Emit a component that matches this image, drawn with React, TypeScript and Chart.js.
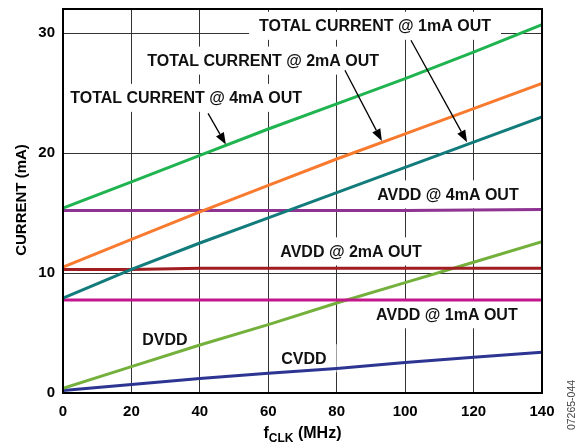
import React, { useEffect, useRef } from "react";
import { Chart, registerables } from "chart.js";

Chart.register(...registerables);

const fclk = [0, 20, 40, 60, 80, 100, 120, 140];
const total4mA = [15.4, 17.6, 19.8, 22.0, 24.1, 26.2, 28.4, 30.7];
const total2mA = [10.5, 12.8, 15.1, 17.3, 19.5, 21.6, 23.7, 25.8];
const total1mA = [7.9, 10.3, 12.5, 14.6, 16.7, 18.8, 20.9, 23.0];
const avdd4mA = [15.2, 15.2, 15.2, 15.2, 15.2, 15.2, 15.25, 15.3];
const avdd2mA = [10.3, 10.3, 10.4, 10.4, 10.4, 10.4, 10.4, 10.4];
const avdd1mA = [7.75, 7.75, 7.75, 7.75, 7.75, 7.75, 7.75, 7.75];
const dvdd = [0.4, 2.2, 4.0, 5.7, 7.5, 9.2, 10.9, 12.6];
const cvdd = [0.2, 0.7, 1.2, 1.65, 2.05, 2.55, 2.98, 3.4];

const xTicks = [0, 20, 40, 60, 80, 100, 120, 140];
const yTicks = [0, 10, 20, 30];

const FONT = "'Liberation Sans', Arial, sans-serif";

const annotations = [
  { text: "TOTAL CURRENT @ 1mA OUT", x: 91.2, y: 30.6, box: true },
  { text: "TOTAL CURRENT @ 2mA OUT", x: 58.5, y: 27.7, box: true },
  { text: "TOTAL CURRENT @ 4mA OUT", x: 36.0, y: 24.6, box: true },
  { text: "AVDD @ 4mA OUT", x: 112.5, y: 16.55, box: true },
  { text: "AVDD @ 2mA OUT", x: 84.2, y: 11.8, box: true },
  { text: "AVDD @ 1mA OUT", x: 112.2, y: 6.56, box: true },
  { text: "DVDD", x: 29.8, y: 4.47, box: true },
  { text: "CVDD", x: 70.4, y: 2.9, box: true },
];

const arrows = [
  { x0: 101.7, y0: 29.4, x1: 118.1, y1: 20.9 },
  { x0: 82.4, y0: 26.9, x1: 93.2, y1: 21.0 },
  { x0: 42.4, y0: 23.3, x1: 47.6, y1: 20.7 },
];

const series = [
  { label: "TOTAL CURRENT @ 4mA OUT", data: total4mA, color: "#1fb44f" },
  { label: "TOTAL CURRENT @ 2mA OUT", data: total2mA, color: "#f77a2f" },
  { label: "TOTAL CURRENT @ 1mA OUT", data: total1mA, color: "#127b7b" },
  { label: "AVDD @ 4mA OUT", data: avdd4mA, color: "#8e3391" },
  { label: "AVDD @ 2mA OUT", data: avdd2mA, color: "#a01d22" },
  { label: "AVDD @ 1mA OUT", data: avdd1mA, color: "#c4168c" },
  { label: "DVDD", data: dvdd, color: "#74b03c" },
  { label: "CVDD", data: cvdd, color: "#2d3592" },
];

const deco = {
  id: "deco",
  beforeDatasetsDraw(chart: any) {
    const ctx = chart.ctx;
    const xs = chart.scales.x;
    const ys = chart.scales.y;
    ctx.save();
    ctx.font = `bold 16px ${FONT}`;
    ctx.textAlign = "center";
    ctx.textBaseline = "middle";
    for (const a of annotations) {
      const px = xs.getPixelForValue(a.x);
      const py = ys.getPixelForValue(a.y);
      const w = ctx.measureText(a.text).width;
      if (a.box) {
        ctx.fillStyle = "#ffffff";
        ctx.fillRect(px - w / 2 - 10, py - 14, w + 20, 28);
      }
      ctx.fillStyle = "#111111";
      ctx.fillText(a.text, px, py + 1);
    }
    ctx.restore();
  },
  afterDatasetsDraw(chart: any) {
    const ctx = chart.ctx;
    const xs = chart.scales.x;
    const ys = chart.scales.y;
    const ca = chart.chartArea;
    ctx.save();
    ctx.strokeStyle = "#000";
    ctx.fillStyle = "#000";
    ctx.lineWidth = 1.3;
    for (const a of arrows) {
      const x0 = xs.getPixelForValue(a.x0);
      const y0 = ys.getPixelForValue(a.y0);
      const x1 = xs.getPixelForValue(a.x1);
      const y1 = ys.getPixelForValue(a.y1);
      const ang = Math.atan2(y1 - y0, x1 - x0);
      const L = 12;
      const W = 4.5;
      const bx = x1 - L * Math.cos(ang);
      const by = y1 - L * Math.sin(ang);
      ctx.beginPath();
      ctx.moveTo(x0, y0);
      ctx.lineTo(bx, by);
      ctx.stroke();
      ctx.beginPath();
      ctx.moveTo(x1, y1);
      ctx.lineTo(bx + W * Math.sin(ang), by - W * Math.cos(ang));
      ctx.lineTo(bx - W * Math.sin(ang), by + W * Math.cos(ang));
      ctx.closePath();
      ctx.fill();
    }
    ctx.lineWidth = 2;
    ctx.strokeStyle = "#000";
    ctx.strokeRect(ca.left, ca.top, ca.right - ca.left, ca.bottom - ca.top);
    ctx.fillStyle = "#000";
    ctx.font = `bold 15px ${FONT}`;
    ctx.textAlign = "center";
    ctx.textBaseline = "middle";
    ctx.save();
    ctx.translate(22, (ca.top + ca.bottom) / 2 - 1);
    ctx.rotate(-Math.PI / 2);
    ctx.fillText("CURRENT (mA)", 0, 0);
    ctx.restore();
    const cx = (ca.left + ca.right) / 2;
    const base = 438;
    ctx.textBaseline = "alphabetic";
    ctx.textAlign = "left";
    const fMain = `bold 16px ${FONT}`;
    const fSub = `bold 12px ${FONT}`;
    ctx.font = fMain;
    const w1 = ctx.measureText("f").width;
    const w3 = ctx.measureText(" (MHz)").width;
    ctx.font = fSub;
    const w2 = ctx.measureText("CLK").width;
    let sx = cx - (w1 + w2 + w3) / 2;
    ctx.font = fMain;
    ctx.fillText("f", sx, base);
    sx += w1;
    ctx.font = fSub;
    ctx.fillText("CLK", sx, base + 4);
    sx += w2;
    ctx.font = fMain;
    ctx.fillText(" (MHz)", sx, base);
    ctx.save();
    ctx.fillStyle = "#444";
    ctx.font = `10.5px ${FONT}`;
    ctx.textAlign = "center";
    ctx.textBaseline = "middle";
    ctx.translate(572, 405);
    ctx.rotate(-Math.PI / 2);
    ctx.fillText("07265-044", 0, 0);
    ctx.restore();
    ctx.restore();
  },
};

function clearPad(s: any) {
  s.paddingTop = 0;
  s.paddingBottom = 0;
  s.paddingLeft = 0;
  s.paddingRight = 0;
}

export default function App() {
  const ref = useRef<HTMLCanvasElement | null>(null);
  useEffect(() => {
    document.body.style.margin = "0";
    const canvas = ref.current;
    if (!canvas) return;
    const chart = new Chart(canvas, {
      type: "line",
      data: {
        datasets: series.map((s) => ({
          label: s.label,
          data: fclk.map((x, i) => ({ x, y: s.data[i] })),
          borderColor: s.color,
          backgroundColor: s.color,
          borderWidth: 3,
          pointRadius: 0,
          tension: 0,
          fill: false,
        })),
      },
      options: {
        responsive: false,
        animation: false,
        devicePixelRatio: 1,
        layout: { padding: { left: 0, top: 9, right: 40, bottom: 0 } },
        plugins: { legend: { display: false }, tooltip: { enabled: false } },
        scales: {
          x: {
            type: "linear",
            min: 0,
            max: 140,
            afterFit: (s: any) => {
              s.height = 55;
              clearPad(s);
            },
            afterBuildTicks: (s: any) => {
              s.ticks = xTicks.map((v) => ({ value: v }));
            },
            ticks: {
              padding: 10,
              color: "#000",
              font: { family: FONT, weight: "bold", size: 15 },
            },
            grid: { color: "#333", lineWidth: 1, drawTicks: false },
            border: { display: false },
          },
          y: {
            min: 0,
            max: 32,
            afterFit: (s: any) => {
              s.width = 63;
              clearPad(s);
            },
            afterBuildTicks: (s: any) => {
              s.ticks = yTicks.map((v) => ({ value: v }));
            },
            ticks: {
              padding: 8,
              color: "#000",
              font: { family: FONT, weight: "bold", size: 15 },
            },
            grid: { color: "#333", lineWidth: 1, drawTicks: false },
            border: { display: false },
          },
        },
      },
      plugins: [deco],
    } as any);
    return () => chart.destroy();
  }, []);
  return (
    <div style={{ width: 582, height: 448 }}>
      <canvas ref={ref} width={582} height={448} />
    </div>
  );
}
